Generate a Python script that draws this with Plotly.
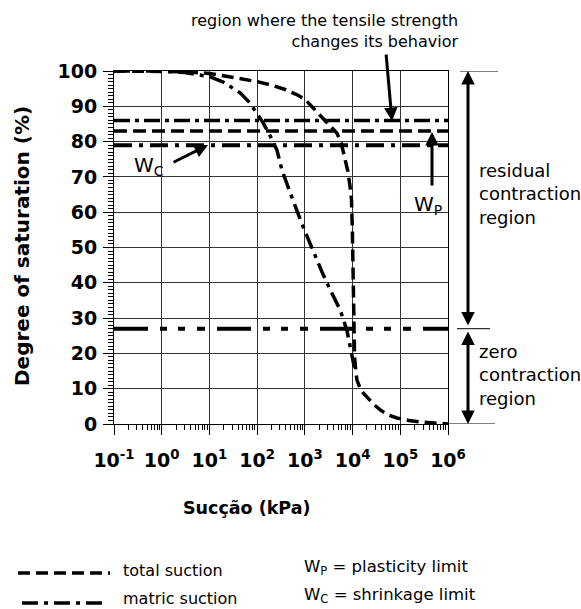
import plotly.graph_objects as go

# Total suction curve: suction (kPa) vs degree of saturation (%)
total_suction_kpa = [0.1, 1, 3, 10, 30, 100, 200, 400, 700, 1000, 1500, 2200, 3200, 4700,
                     5800, 6900, 8000, 8900, 9500, 9900, 10200, 10500, 11000, 11700, 12300,
                     15000, 20000, 28000, 38000, 55000, 85000, 150000, 260000, 1000000]
total_saturation = [100, 100, 99.8, 99.3, 98.3, 97.0, 96.0, 94.7, 93.2, 92.0, 89.5, 87.0, 84.8,
                    82.4, 79.5, 75.6, 71.5, 67.0, 63.5, 55.0, 45.0, 32.0, 19.0, 15.0, 12.5,
                    9.5, 7.6, 5.5, 4.0, 2.6, 1.7, 1.0, 0.6, 0.0]

# Matric suction curve
matric_suction_kpa = [0.1, 1, 3, 10, 20, 44, 70, 100, 130, 190, 260, 330, 490, 560, 910,
                      1480, 2300, 3400, 5500, 7600, 8900, 9800, 10900]
matric_saturation = [100, 100, 99.6, 98.4, 96.8, 93.8, 91.0, 88.0, 85.6, 81.5, 77.6, 72.0,
                     65.4, 63.5, 56.0, 49.0, 43.0, 38.0, 32.3, 26.6, 21.8, 19.0, 16.0]

# Saturation levels of the horizontal reference lines
tensile_change_level = 86
plasticity_limit_level = 83
shrinkage_limit_level = 79
zero_contraction_level = 27

suction_span = [0.1, 1e6]

decade_ticks = [0.1, 1, 10, 100, 1e3, 1e4, 1e5, 1e6]
decade_labels = ["10<sup>-1</sup>", "10<sup>0</sup>", "10<sup>1</sup>", "10<sup>2</sup>",
                 "10<sup>3</sup>", "10<sup>4</sup>", "10<sup>5</sup>", "10<sup>6</sup>"]
minor_ticks = [m * 10 ** e for e in range(-1, 6) for m in range(2, 10)]

# Figure geometry (pixels)
W, H = 581, 609
L, R, T, B = 114, 448, 71, 424
FONT = "DejaVu Sans"


def px(x):
    return (x - L) / (R - L)


def py(y):
    return (B - y) / (B - T)


fig = go.Figure()

line_specs = [
    (tensile_change_level, "16px,5px,4px,5px", 3.5),
    (plasticity_limit_level, "13px,6px", 3.5),
    (shrinkage_limit_level, "18px,7px,4px,7px", 4),
    (zero_contraction_level, "34px,12px,7px,11px,7px,12px,8px,12px", 4),
]
for level, dash, width in line_specs:
    fig.add_trace(go.Scatter(x=suction_span, y=[level, level], mode="lines",
                             line=dict(color="black", width=width, dash=dash),
                             showlegend=False, hoverinfo="skip"))

fig.add_trace(go.Scatter(x=total_suction_kpa, y=total_saturation, mode="lines",
                         line=dict(color="black", width=3.5, dash="12px,6px"),
                         name="total suction", showlegend=False))
fig.add_trace(go.Scatter(x=matric_suction_kpa, y=matric_saturation, mode="lines",
                         line=dict(color="black", width=3.5, dash="16px,6px,4px,6px"),
                         name="matric suction", showlegend=False))

annotations = []


def text(x, y, s, size, xanchor="left", align="left", bold=False, angle=0):
    annotations.append(dict(
        x=px(x), y=py(y), xref="paper", yref="paper", text=s, showarrow=False,
        xanchor=xanchor, yanchor="middle", align=align, textangle=angle,
        font=dict(family=FONT, size=size, color="black", weight="bold" if bold else "normal")))


def arrow(tip, tail, both=False):
    annotations.append(dict(
        x=px(tip[0]), y=py(tip[1]), xref="paper", yref="paper", text="",
        showarrow=True, axref="pixel", ayref="pixel",
        ax=tail[0] - tip[0], ay=tail[1] - tip[1],
        arrowhead=2, startarrowhead=2, arrowsize=0.9, startarrowsize=0.9,
        arrowwidth=3, arrowcolor="black", standoff=0, startstandoff=0,
        arrowside="end+start" if both else "end"))


# Titles and labels
text(22, 246, "Degree of saturation (%)", 20, xanchor="center", bold=True, angle=-90)
text(247, 508, "Sucção (kPa)", 17.5, xanchor="center", bold=True)
text(460, 31, "region where the tensile strength<br>changes its behavior", 16,
     xanchor="right", align="right")
text(477, 194, "residual<br>contraction<br>region", 18)
text(477, 375, "zero<br>contraction<br>region", 18)
text(132, 166, "W<sub>C</sub>", 20)
text(412, 205, "W<sub>P</sub>", 20)

# Arrows
arrow((208, 145), (172, 163))
arrow((432, 132), (432, 187))
arrow((392, 121), (386, 53))
arrow((468, T), (468, 327), both=True)
arrow((468, B), (468, 330), both=True)

# Legend
text(121, 570, "total suction", 16)
text(121, 598, "matric suction", 16)
text(302, 567, "W<sub>P</sub> = plasticity limit", 16.5)
text(302, 595, "W<sub>C</sub> = shrinkage limit", 16.5)

shapes = [
    dict(type="line", xref="paper", yref="paper", x0=px(18), x1=px(110), y0=py(573), y1=py(573),
         line=dict(color="black", width=3.5, dash="12px,6px")),
    dict(type="line", xref="paper", yref="paper", x0=px(22), x1=px(106), y0=py(603), y1=py(603),
         line=dict(color="black", width=3.5, dash="16px,6px,4px,6px")),
    # region boundary marks to the right of the plot
    dict(type="line", xref="paper", yref="y", x0=px(460), x1=px(498), y0=100, y1=100,
         line=dict(color="black", width=1)),
    dict(type="line", xref="paper", yref="y", x0=px(457), x1=px(490),
         y0=zero_contraction_level, y1=zero_contraction_level,
         line=dict(color="black", width=1)),
    dict(type="line", xref="paper", yref="y", x0=px(448), x1=px(495), y0=0, y1=0,
         line=dict(color="black", width=1)),
]

fig.update_layout(
    width=W, height=H, autosize=False,
    margin=dict(l=L, r=W - R, t=T, b=H - B, pad=0),
    paper_bgcolor="white", plot_bgcolor="white",
    showlegend=False,
    annotations=annotations, shapes=shapes,
    xaxis=dict(type="log", range=[-1, 6], tickmode="array", tickvals=decade_ticks,
               ticktext=decade_labels, ticks="outside", ticklen=10, tickcolor="black",
               showgrid=True, gridcolor="#333333", gridwidth=1,
               showline=True, linecolor="black", linewidth=1, mirror=True, zeroline=False,
               tickfont=dict(family=FONT, size=19, color="black", weight="bold"),
               ticklabelstandoff=9,
               minor=dict(tickvals=minor_ticks, ticks="outside", ticklen=5,
                          tickcolor="black", showgrid=False)),
    yaxis=dict(range=[0, 100], tickmode="linear", tick0=0, dtick=10,
               ticks="outside", ticklen=10, tickcolor="black",
               showgrid=True, gridcolor="#333333", gridwidth=1,
               showline=True, linecolor="black", linewidth=1, mirror=True, zeroline=False,
               tickfont=dict(family=FONT, size=19, color="black", weight="bold"),
               ticklabelstandoff=2,
               minor=dict(dtick=1, ticks="outside", ticklen=5, tickcolor="black",
                          showgrid=False)),
)

fig.write_html("out.html")
